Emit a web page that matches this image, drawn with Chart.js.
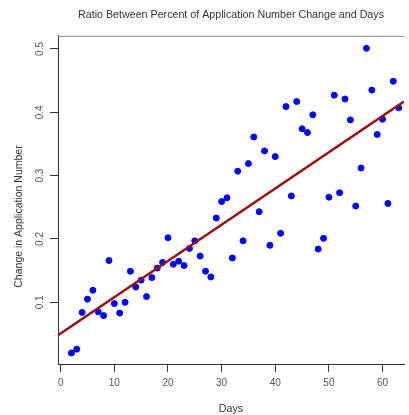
<!DOCTYPE html>
<html>
<head>
<meta charset="utf-8">
<title>Ratio Between Percent of Application Number Change and Days</title>
<script src="https://cdn.jsdelivr.net/npm/chart.js@4/dist/chart.umd.min.js"></script>
<style>
  html, body { margin: 0; padding: 0; background: #fff; }
  canvas { display: block; }
</style>
</head>
<body>
<canvas id="mycanvas" width="409" height="415"></canvas>
<script>
// values
var days = [2, 3, 4, 5, 6, 7, 8, 9, 10, 11, 12, 13, 14, 15, 16, 17, 18, 19, 20, 21,
  22, 23, 24, 25, 26, 27, 28, 29, 30, 31, 32, 33, 34, 35, 36, 37, 38, 39, 40, 41,
  42, 43, 44, 45, 46, 47, 48, 49, 50, 51, 52, 53, 54, 55, 56, 57, 58, 59, 60, 61,
  62, 63];
var ratio = [0.020, 0.026, 0.084, 0.105, 0.119, 0.085, 0.079, 0.166, 0.098, 0.083,
  0.100, 0.149, 0.124, 0.135, 0.109, 0.139, 0.154, 0.163, 0.202, 0.160,
  0.165, 0.158, 0.185, 0.197, 0.173, 0.149, 0.140, 0.233, 0.259, 0.265,
  0.170, 0.307, 0.197, 0.319, 0.361, 0.243, 0.339, 0.190, 0.330, 0.209,
  0.409, 0.268, 0.417, 0.374, 0.368, 0.396, 0.184, 0.201, 0.266, 0.427,
  0.273, 0.421, 0.388, 0.252, 0.312, 0.501, 0.435, 0.365, 0.389, 0.256,
  0.449, 0.407];

// fitted line, end points as seen in the picture
var trendX = [-0.5, 64];
var trendY = [0.048, 0.417];

var xTicks = [0, 10, 20, 30, 40, 50, 60];
var yTicks = [0.1, 0.2, 0.3, 0.4, 0.5];

var points = [];
for (var i in days) {
  points.push({x: days[i], y: ratio[i]});
}
var trend = [];
for (var j in trendX) {
  trend.push({x: trendX[j], y: trendY[j]});
}

var font = "'Liberation Sans', Arial, Helvetica, sans-serif";

// gray top edge of the plot box, and the y label (sits a bit below centre in the original)
var extras = {
  id: 'extras',
  afterDraw: function(chart) {
    var a = chart.chartArea;
    var c = chart.ctx;
    c.save();
    c.strokeStyle = '#8a8a8a';
    c.lineWidth = 1;
    c.beginPath();
    c.moveTo(a.left, a.top + 0.5);
    c.lineTo(a.right, a.top + 0.5);
    c.stroke();

    c.translate(19, 216.5);
    c.rotate(-Math.PI / 2);
    c.fillStyle = '#333';
    c.font = '10.5px ' + font;
    c.textAlign = 'center';
    c.textBaseline = 'middle';
    c.fillText('Change in Application Number', 0, 0);
    c.restore();
  }
};

var ctx = document.getElementById('mycanvas');

var scatter = new Chart(ctx, {
  type: 'scatter',
  data: {
    datasets: [
      {
        label: 'Trend',
        type: 'line',
        data: trend,
        borderColor: '#9a0f0f',
        borderWidth: 2.5,
        pointRadius: 0,
        fill: false,
        order: 0
      },
      {
        label: 'Ratio',
        data: points,
        backgroundColor: '#0000ff',
        borderColor: '#0000ff',
        borderWidth: 1,
        pointRadius: 3,
        order: 1
      }
    ]
  },
  plugins: [extras],
  options: {
    responsive: false,
    animation: false,
    layout: { padding: 0 },
    plugins: {
      legend: { display: false },
      tooltip: { enabled: false },
      title: {
        display: true,
        fullSize: false,
        text: 'Ratio Between Percent of Application Number Change and Days',
        color: '#333',
        font: { family: font, size: 10.7, weight: 'normal' },
        padding: { top: 9, bottom: 14 }
      }
    },
    scales: {
      x: {
        type: 'linear',
        min: -0.5,
        max: 64,
        afterBuildTicks: function(scale) {
          scale.ticks = xTicks.map(function(v) { return {value: v}; });
        },
        afterFit: function(scale) { scale.height = 50; },
        grid: { drawOnChartArea: false, tickLength: 7, tickColor: '#333' },
        border: { color: '#333', width: 1 },
        ticks: {
          color: '#555',
          font: { family: font, size: 10 },
          padding: 5,
          maxRotation: 0
        },
        title: {
          display: true,
          text: 'Days',
          color: '#333',
          font: { family: font, size: 10.7 },
          padding: { top: 0, bottom: 0 }
        }
      },
      y: {
        type: 'linear',
        min: 0.001,
        max: 0.5207,
        afterBuildTicks: function(scale) {
          scale.ticks = yTicks.map(function(v) { return {value: v}; });
        },
        afterFit: function(scale) { scale.width = 58; },
        grid: { drawOnChartArea: false, tickLength: 8, tickColor: '#333' },
        border: { color: '#333', width: 1 },
        ticks: {
          color: '#555',
          font: { family: font, size: 10 },
          minRotation: 90,
          maxRotation: 90,
          crossAlign: 'center',
          padding: 3,
          callback: function(v) { return String(v); }
        }
      }
    }
  }
});
</script>
</body>
</html>
